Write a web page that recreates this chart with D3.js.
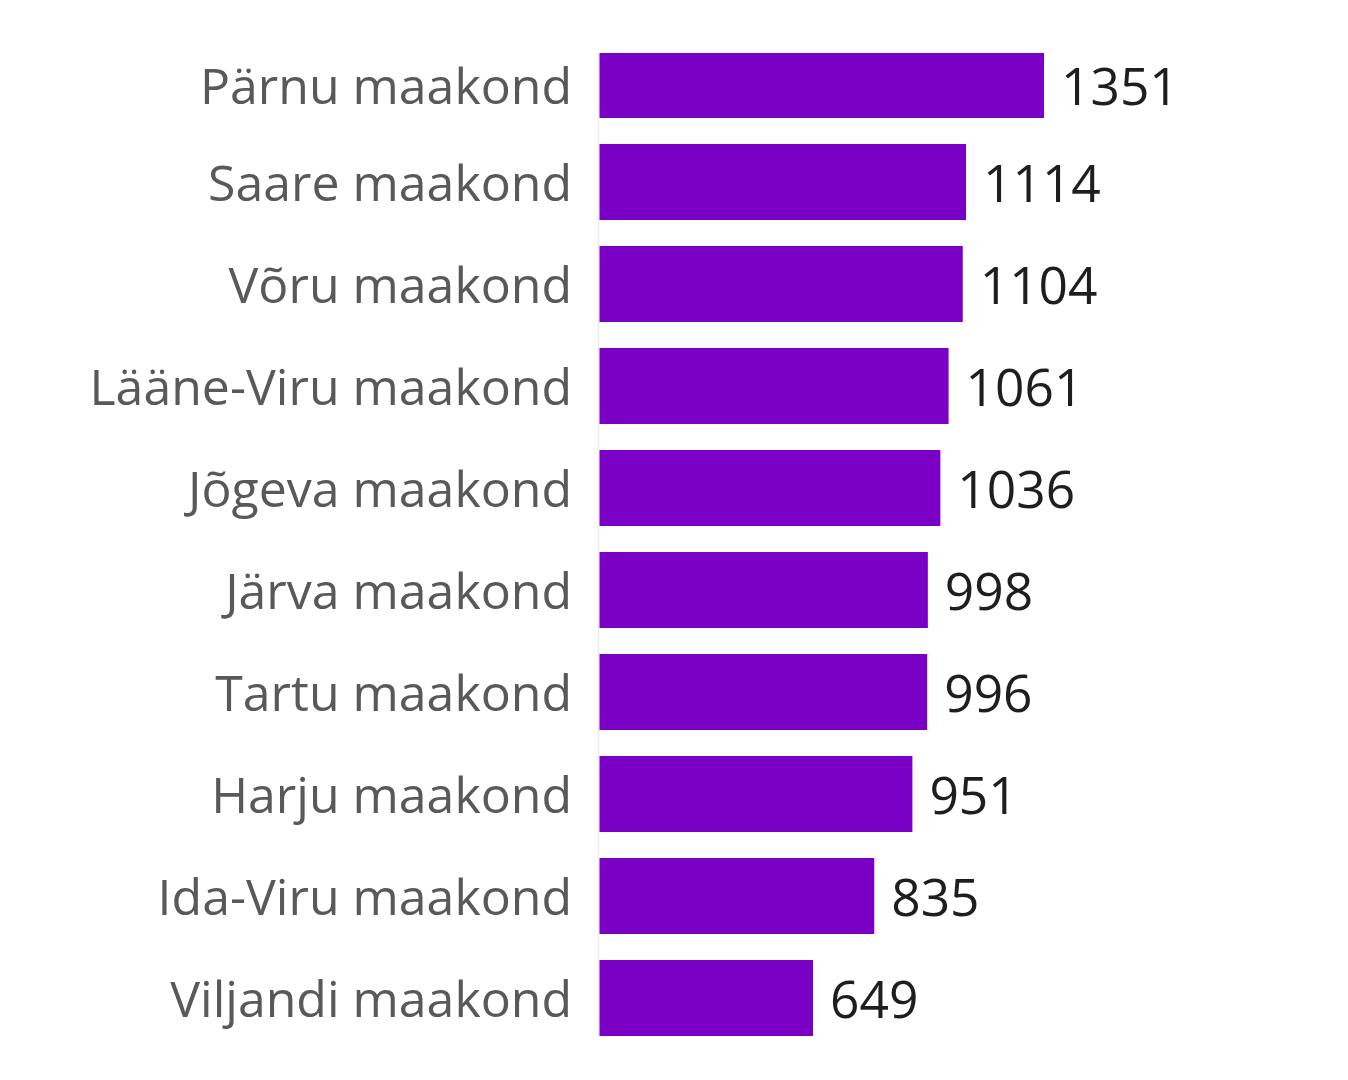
<!DOCTYPE html>
<html><head><meta charset="utf-8"><script src="https://cdn.jsdelivr.net/npm/d3@7"></script>
<style>body{margin:0;background:#fff}</style></head>
<body>
<svg id="chart" width="1348" height="1080"></svg>
<script>
const categories = ["Pärnu maakond","Saare maakond","Võru maakond","Lääne-Viru maakond","Jõgeva maakond","Järva maakond","Tartu maakond","Harju maakond","Ida-Viru maakond","Viljandi maakond"];
const values = [1351,1114,1104,1061,1036,998,996,951,835,649];

const svg = d3.select("#chart");
const x0 = 599.5, clipTop = 53;
const x = d3.scaleLinear().domain([0, 1351]).range([x0, 1044]);
const y = d3.scaleBand().domain(categories).range([42, 1036]).paddingInner(0.255).paddingOuter(0);

svg.append("clipPath").attr("id","clip").append("rect")
  .attr("x",0).attr("y",clipTop).attr("width",1348).attr("height",1080-clipTop);

svg.append("line").attr("x1",x0-1).attr("x2",x0-1).attr("y1",clipTop).attr("y2",1036)
  .attr("stroke","#ececec").attr("stroke-width",1.5);

const g = svg.append("g").attr("clip-path","url(#clip)");
g.selectAll("rect.bar").data(values).join("rect").attr("class","bar")
  .attr("x", x0)
  .attr("y", (d,i)=>y(categories[i]))
  .attr("width", d=>x(d)-x0)
  .attr("height", y.bandwidth())
  .attr("fill","#7a00c6");

const mid = i => {
  const t = Math.max(y(categories[i]), clipTop);
  return (t + y(categories[i]) + y.bandwidth())/2;
};

svg.selectAll("text.lab").data(categories).join("text").attr("class","lab")
  .attr("x", 572).attr("y", (d,i)=>mid(i)+19)
  .attr("text-anchor","end")
  .style("font-family","'Open Sans'").style("font-size","50px").style("fill","#595959")
  .text(d=>d);

svg.selectAll("text.val").data(values).join("text").attr("class","val")
  .attr("x", d=>x(d)+17).attr("y", (d,i)=>mid(i)+20)
  .style("font-family","'Open Sans'").style("font-size","51.5px").style("fill","#1e1e1e")
  .text(d=>d);
</script></body></html>
